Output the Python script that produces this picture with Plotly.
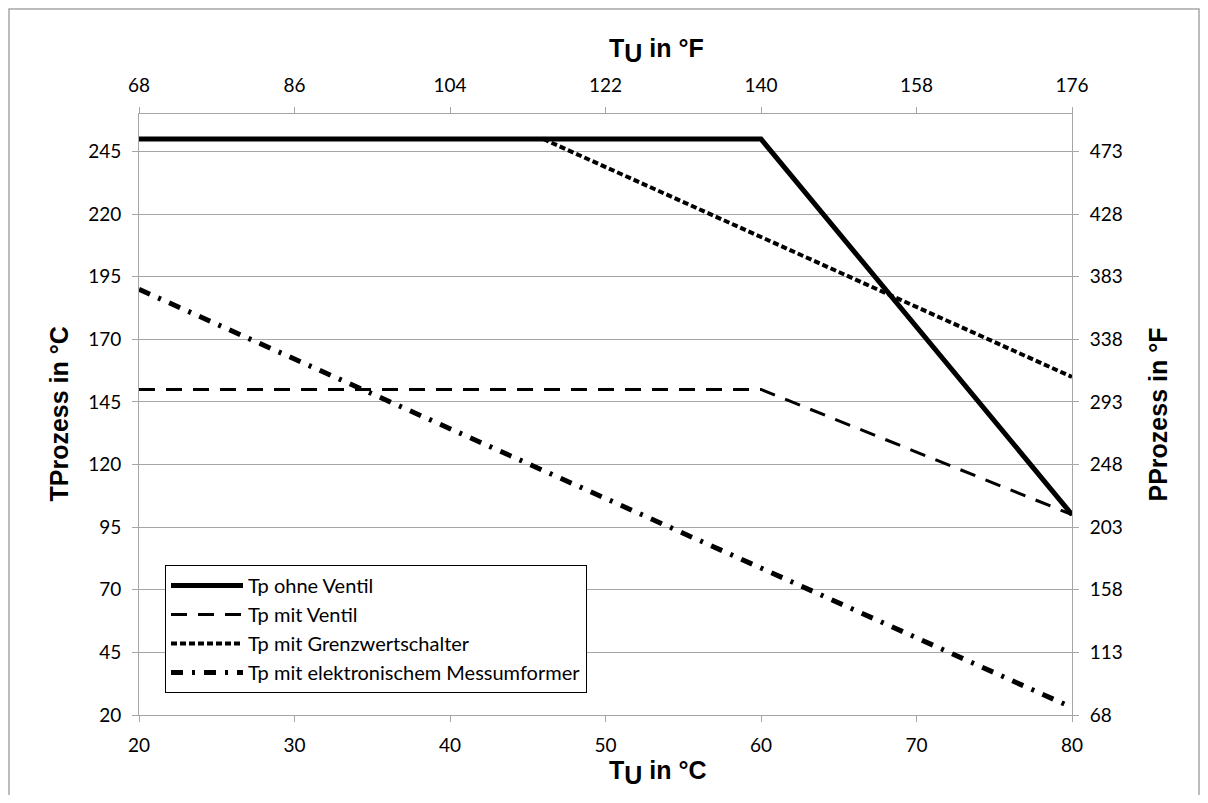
import plotly.graph_objects as go

# data (°C)
x_ohne = [20, 60, 80]
y_ohne = [250, 250, 100]
x_mit = [20, 60, 80]
y_mit = [150, 150, 100]
x_grenz = [46, 80]
y_grenz = [250, 155]
x_elek = [20, 80]
y_elek = [190, 23]

names = ["Tp ohne Ventil", "Tp mit Ventil", "Tp mit Grenzwertschalter",
         "Tp mit elektronischem Messumformer"]

left_ticks = [20, 45, 70, 95, 120, 145, 170, 195, 220, 245]
right_ticks = [68, 113, 158, 203, 248, 293, 338, 383, 428, 473]
bottom_ticks = [20, 30, 40, 50, 60, 70, 80]
top_ticks = [68, 86, 104, 122, 140, 158, 176]

GRID = "#a6a6a6"
FONT = "Lato"

# page has an 8px body margin: figure coordinates are offset by 8px
W, H = 1192, 787
L, T = 131, 106
PW, PH = 933, 601

fig = go.Figure()
fig.add_trace(go.Scatter(x=x_ohne, y=y_ohne, mode="lines", name=names[0],
                         line=dict(color="black", width=5)))
fig.add_trace(go.Scatter(x=x_mit, y=y_mit, mode="lines", name=names[1],
                         line=dict(color="black", width=3, dash="16px,11px")))
fig.add_trace(go.Scatter(x=x_grenz, y=y_grenz, mode="lines", name=names[2],
                         line=dict(color="black", width=4, dash="6px,3px")))
fig.add_trace(go.Scatter(x=x_elek, y=y_elek, mode="lines", name=names[3],
                         line=dict(color="black", width=5, dash="12px,9px,3px,9px")))
fig.add_trace(go.Scatter(x=[68, 176], y=[68, 500], xaxis="x2", yaxis="y2",
                         mode="lines", line=dict(width=0), showlegend=False,
                         hoverinfo="skip", opacity=0))

axis_common = dict(showline=True, linecolor=GRID, linewidth=1, ticks="outside",
                   tickcolor=GRID, ticklen=6,
                   tickfont=dict(family=FONT, size=19, color="black"),
                   zeroline=False, ticklabelstandoff=7)

fig.update_layout(
    width=W, height=H,
    margin=dict(l=L, r=W - L - PW, t=T, b=H - T - PH),
    paper_bgcolor="white", plot_bgcolor="white",
    showlegend=True,
    xaxis=dict(range=[20, 80], tickvals=bottom_ticks, showgrid=False, **axis_common),
    yaxis=dict(range=[20, 260], tickvals=left_ticks, showgrid=True, gridcolor=GRID,
               gridwidth=1, **axis_common),
    xaxis2=dict(range=[68, 176], tickvals=top_ticks, overlaying="x", side="top",
                showgrid=False, **axis_common),
    yaxis2=dict(range=[68, 500], tickvals=right_ticks, overlaying="y", side="right",
                showgrid=False, **axis_common),
    legend=dict(x=(165 - 139) / PW, y=(715 - 565) / PH, xanchor="left", yanchor="top",
                bgcolor="white", bordercolor="black", borderwidth=1,
                font=dict(family=FONT, size=20, color="black"),
                tracegroupgap=0, itemwidth=72),
    font=dict(family=FONT),
)

title_font = dict(family="Liberation Sans", size=25, color="black")
fig.add_annotation(text="<b>T<sub><span style='font-size:25px'>U</span></sub> in °C</b>",
                   xref="paper", yref="paper", x=(607 - 139) / PW, y=(715 - 772) / PH,
                   xanchor="left", yanchor="middle", showarrow=False, font=title_font)
fig.add_annotation(text="<b>T<sub><span style='font-size:25px'>U</span></sub> in °F</b>",
                   xref="paper", yref="paper", x=(607 - 139) / PW, y=(715 - 50) / PH,
                   xanchor="left", yanchor="middle", showarrow=False, font=title_font)
fig.add_annotation(text="<b>TProzess in °C</b>", textangle=-90,
                   xref="paper", yref="paper", x=(58 - 139) / PW, y=0.5,
                   xanchor="center", yanchor="middle", showarrow=False, font=title_font)
fig.add_annotation(text="<b>PProzess in °F</b>", textangle=-90,
                   xref="paper", yref="paper", x=(1157 - 139) / PW, y=0.5,
                   xanchor="center", yanchor="middle", showarrow=False, font=title_font)

# outer frame
fig.add_shape(type="rect", xref="paper", yref="paper",
              x0=(-L + 1) / PW, x1=(W - L - 1) / PW,
              y0=(-(H - T - PH) - 20) / PH, y1=(PH + T - 1) / PH,
              line=dict(color="#a6a6a6", width=1.5), fillcolor="rgba(0,0,0,0)", layer="below")

fig.write_html("out.html")
